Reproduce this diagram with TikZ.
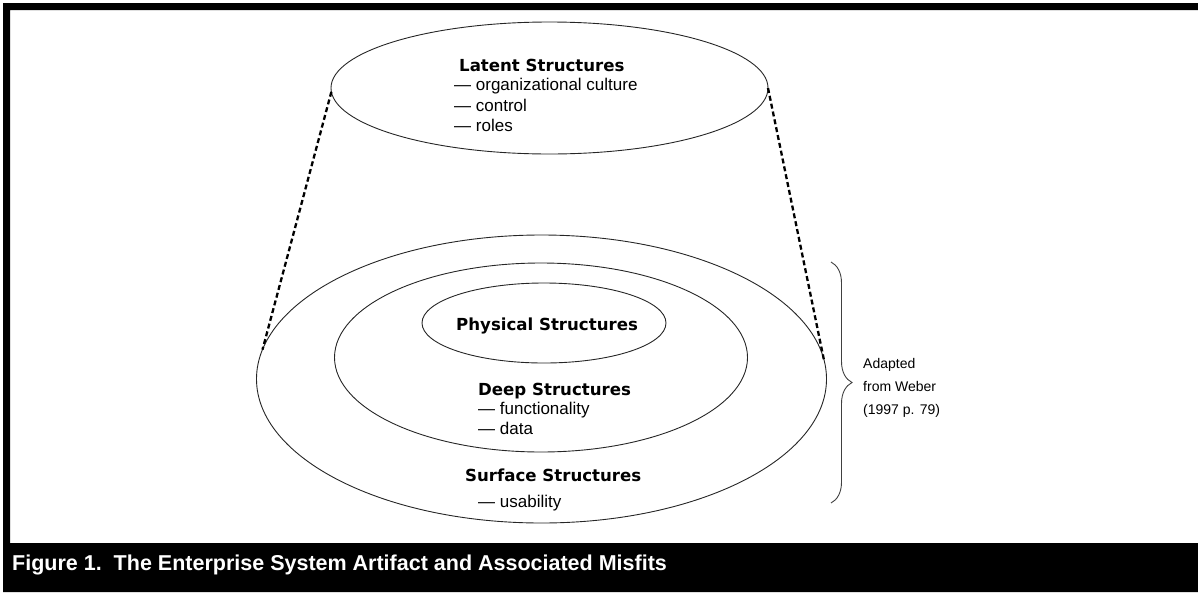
\documentclass[tikz,border=0pt]{standalone}
\usepackage{fontspec}
\setmainfont{Liberation Sans}
\newfontfamily\headfont{DejaVu Sans}
\usetikzlibrary{shapes.geometric,decorations.pathreplacing}

\begin{document}
\begin{tikzpicture}[x=1pt, y=-1pt,
        ring/.style={draw=black!85, ellipse, line width=0.9pt, inner sep=0pt, outer sep=0pt},
        heading/.style={anchor=base west, inner sep=0pt, font=\headfont\bfseries\fontsize{16.6}{18}\selectfont},
        entry/.style={anchor=base west, inner sep=0pt, font=\fontsize{17}{19}\selectfont},
        source/.style={anchor=base west, inner sep=0pt, font=\fontsize{14}{16}\selectfont},
        link/.style={line width=2.3pt, dash pattern=on 5pt off 3pt}
    ]
    \useasboundingbox (0,0) rectangle (1198,592);
    % Marco
    \fill[black, even odd rule] (3,3) rectangle (1198,592) (10,10) rectangle (1198,543);
    \node[anchor=base west, inner sep=0pt, text=white, font=\bfseries\fontsize{21.5}{24}\selectfont] (caption) at (12,570) {Figure 1.\ \ The Enterprise System Artifact and Associated Misfits};
    % Elipses
    \node[ring, minimum width=437pt, minimum height=132pt] (latent) at (549.5,88) {};
    \node[ring, minimum width=570pt, minimum height=288pt] (surface) at (541.5,379) {};
    \node[ring, minimum width=413pt, minimum height=189pt] (deep) at (541,357.5) {};
    \node[ring, minimum width=244pt, minimum height=80pt] (physical) at (544,323) {};
    % Textos
    \node[heading] (latentTitle) at (459,71) {Latent Structures};
    \node[entry] (culture) at (454,90) {— organizational culture};
    \node[entry] (control) at (454,111) {— control};
    \node[entry] (roles) at (454,131) {— roles};

    \node[heading] (physicalTitle) at (456,330) {Physical Structures};

    \node[heading] (deepTitle) at (478,395) {Deep Structures};
    \node[entry] (functionality) at (478,414) {— functionality};
    \node[entry] (data) at (478,434) {— data};

    \node[heading] (surfaceTitle) at (465,481) {Surface Structures};
    \node[entry] (usability) at (478,507) {— usability};

    \node[source] (adapted) at (863,368) {Adapted};
    \node[source] (weber) at (863,391) {from Weber};
    \node[source] (year) at (863,414) {(1997 p. 79)};
    % Lineas
    \draw[link] (latent.181) -- (surface.174);
    \draw[link] (latent.0) -- (surface.4);

    \coordinate (braceTop) at (831,262);
    \coordinate (braceBottom) at (831,503);
    \draw[black!75, line width=0.9pt, decorate, decoration={brace, amplitude=21pt}] (braceTop) -- (braceBottom);
\end{tikzpicture}
\end{document}
